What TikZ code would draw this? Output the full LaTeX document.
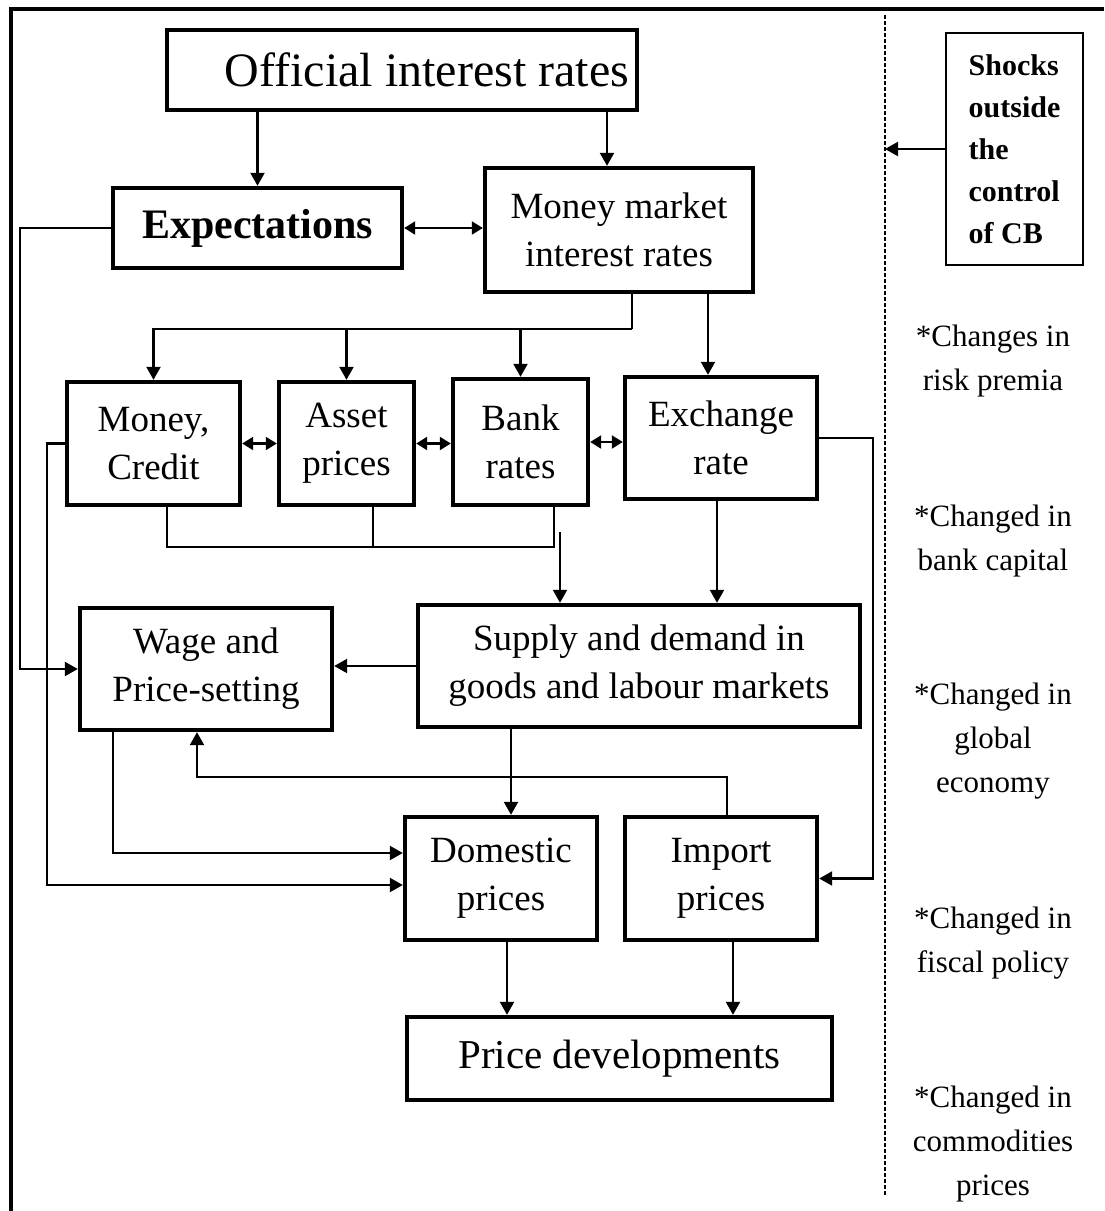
\documentclass[tikz,border=0pt]{standalone}
\usepackage{fontspec}
\setmainfont{Liberation Serif}
\usetikzlibrary{arrows.meta}

\tikzset{
  box/.style={draw, line width=2.2pt, align=center, inner sep=0pt,
    font=\fontsize{18.5}{24}\selectfont},
  line/.style={line width=1.1pt},
  arr/.style={line width=1.1pt, -{Triangle[length=6.5pt,width=7pt]}},
  dbl/.style={line width=1.1pt,
    {Triangle[length=5.5pt,width=6.5pt]}-{Triangle[length=5.5pt,width=6.5pt]}},
  note/.style={align=center, font=\fontsize{15.5}{22}\selectfont}
}

\begin{document}
\begin{tikzpicture}[x=0.5pt, y=-0.5pt]
  \useasboundingbox (0,0) rectangle (1104,1211);
  % frame
  \draw[line width=2pt] (11,1211) -- (11,9) -- (1104,9);

  % Policy rate and expectations
  \node[box, minimum width=235pt, minimum height=40pt, font=\fontsize{24}{28}\selectfont] (off) at (402,70) {\hspace*{25pt}Official interest rates};
  \node[box, minimum width=144.5pt, minimum height=40pt, font=\bfseries\fontsize{21}{24}\selectfont] (exp) at (257.5,228) {Expectations};
  \node[box, minimum width=134pt, minimum height=62pt] (mm) at (619,230) {Money market\\interest rates};

  % Channels
  \node[box, minimum width=86.5pt, minimum height=61.5pt] (mon) at (153.5,443.5) {Money,\\Credit};
  \node[box, minimum width=67.5pt, minimum height=61.5pt] (ast) at (346.5,443.5) {Asset\\prices};
  \node[box, minimum width=67.5pt, minimum height=63pt] (bank) at (520.5,442) {Bank\\rates};
  \node[box, minimum width=96pt, minimum height=61pt] (exch) at (721,438) {Exchange\\rate};

  % Markets and prices
  \node[box, minimum width=126pt, minimum height=61pt] (wage) at (206,669) {Wage and\\Price-setting};
  \node[box, minimum width=221pt, minimum height=61pt] (sup) at (639,666) {Supply and demand in\\goods and labour markets};
  \node[box, minimum width=96pt, minimum height=61.5pt] (dom) at (501,878.5) {Domestic\\prices};
  \node[box, minimum width=96pt, minimum height=61.5pt] (imp) at (721,878.5) {Import\\prices};
  \node[box, minimum width=212.5pt, minimum height=41.5pt, font=\fontsize{20.5}{24}\selectfont] (price) at (619.5,1058.5) {Price developments};

  % Outside shocks
  \draw[line width=0.6pt, dash pattern=on 2pt off 1pt] (885,15) -- (885,1195);
  \coordinate (dl) at (885,0);
  \node[draw, line width=1pt, minimum width=68.5pt, minimum height=116pt, inner sep=0pt, align=left,
    font=\bfseries\fontsize{15}{21}\selectfont] (shock) at (1014.5,149) {Shocks\\outside\\the\\control\\of CB};
  \draw[arr] (shock.west) -- (shock.west -| dl);
  \node[note] (n1) at (993,361.5) {*Changes in\\risk premia};
  \node[note] (n2) at (993,541.5) {*Changed in\\bank capital};
  \node[note] (n3) at (993,741.5) {*Changed in\\global\\economy};
  \node[note] (n4) at (993,943) {*Changed in\\fiscal policy};
  \node[note] (n5) at (993,1144) {*Changed in\\commodities\\prices};

  % Connectors at the top
  \draw[arr] (off.south -| exp.north) -- (exp.north);
  \draw[arr] ([xshift=-6pt]mm.north |- off.south) -- ([xshift=-6pt]mm.north);
  \draw[dbl] (exp.east) -- (exp.east -| mm.west);
  \coordinate (split) at (632,329);
  \draw[line] ([xshift=6.5pt]mm.south) -- (split);
  \draw[arr] (split) -| (mon.north);
  \draw[arr] (split -| ast.north) -- (ast.north);
  \draw[arr] (split -| bank.north) -- (bank.north);
  \draw[arr] ([xshift=-6.5pt]exch.north |- mm.south) -- ([xshift=-6.5pt]exch.north);

  % Links between the channels
  \draw[dbl] (mon.east) -- (ast.west);
  \draw[dbl] (ast.east) -- (ast.east -| bank.west);
  \draw[dbl] (bank.east) -- (bank.east -| exch.west);
  \coordinate (jl) at (167,547);
  \coordinate (jm) at (373,547);
  \coordinate (jr) at (554,547);
  \draw[line] (mon.south -| jl) -- (jl) -- (jr) -- (bank.south -| jr);
  \draw[line] (ast.south -| jm) -- (jm);
  \coordinate (jo) at (560,532);
  \draw[arr] (jo) -- (jo |- sup.north);
  \draw[arr] ([xshift=-2pt]exch.south) -- ([xshift=-2pt]exch.south |- sup.north);

  % Side channels
  \coordinate (lx1) at (20,0);
  \coordinate (lx2) at (47,0);
  \coordinate (rx) at (873,0);
  \draw[arr] (exp.west) -- (exp.west -| lx1) |- (wage.west);
  \draw[arr] (mon.west) -- (mon.west -| lx2) |- ([yshift=-3.25pt]dom.west);
  \draw[arr] ([xshift=-46.5pt]wage.south) |- ([yshift=12.75pt]dom.west);
  \draw[arr] (exch.east) -- (exch.east -| rx) |- (imp.east);
  \draw[arr] (sup.west) -- (sup.west -| wage.east);
  \draw[arr] ([xshift=5pt]dom.north |- sup.south) -- ([xshift=5pt]dom.north);
  \coordinate (fb) at (197,777);
  \draw[arr] ([xshift=3pt]imp.north) |- (fb) -- (fb |- wage.south);

  % Into price developments
  \draw[arr] ([xshift=3pt]dom.south) -- ([xshift=3pt]dom.south |- price.north);
  \draw[arr] ([xshift=6pt]imp.south) -- ([xshift=6pt]imp.south |- price.north);
\end{tikzpicture}
\end{document}
